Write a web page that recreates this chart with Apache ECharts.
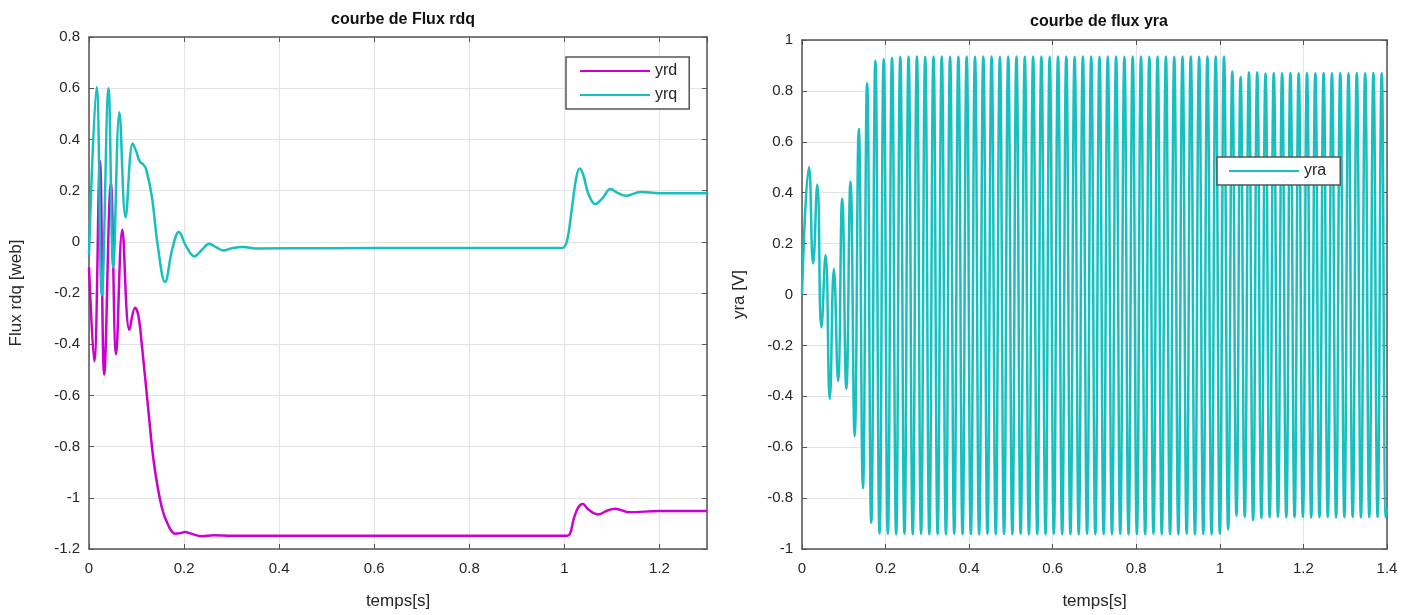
<!DOCTYPE html>
<html>
<head>
<meta charset="utf-8">
<script src="https://cdn.jsdelivr.net/npm/echarts@6/dist/echarts.min.js"></script>
<style>
html,body{margin:0;padding:0;background:#fff;}
#chart{width:1421px;height:615px;}
</style>
</head>
<body>
<div id="chart"></div>
<script>
// ---------- DATA ----------
const leftTitle = 'courbe de Flux rdq';
const rightTitle = 'courbe de flux yra';
const leftSeriesNames = ['yrd', 'yrq'];
const rightSeriesNames = ['yra'];

const yrdTime = [0, 0.011, 0.023, 0.032, 0.046, 0.057, 0.070, 0.085, 0.097, 0.104, 0.111, 0.125, 0.137, 0.153, 0.167, 0.181, 0.192, 0.202, 0.215, 0.237, 0.262, 0.3, 0.5, 0.8, 1.005, 1.012, 1.02, 1.03, 1.039, 1.05, 1.072, 1.09, 1.107, 1.135, 1.2, 1.3];
const yrdValues = [-0.10, -0.467, 0.316, -0.519, 0.229, -0.439, 0.047, -0.344, -0.258, -0.29, -0.40, -0.66, -0.87, -1.037, -1.108, -1.14, -1.138, -1.134, -1.14, -1.15, -1.146, -1.148, -1.148, -1.148, -1.148, -1.14, -1.08, -1.035, -1.024, -1.045, -1.065, -1.05, -1.043, -1.056, -1.052, -1.052];

const yrqTime = [0, 0.016, 0.027, 0.041, 0.051, 0.064, 0.077, 0.092, 0.1, 0.106, 0.115, 0.12, 0.132, 0.145, 0.16, 0.175, 0.189, 0.205, 0.222, 0.238, 0.253, 0.268, 0.283, 0.3, 0.325, 0.35, 0.5, 0.7, 0.9, 0.995, 1.005, 1.015, 1.025, 1.032, 1.04, 1.05, 1.065, 1.08, 1.097, 1.113, 1.13, 1.16, 1.2, 1.3];
const yrqValues = [-0.05, 0.605, -0.21, 0.60, -0.10, 0.506, 0.096, 0.384, 0.35, 0.316, 0.30, 0.285, 0.18, -0.02, -0.157, -0.03, 0.038, -0.02, -0.057, -0.03, -0.008, -0.022, -0.034, -0.025, -0.02, -0.026, -0.025, -0.024, -0.024, -0.024, 0.0, 0.12, 0.25, 0.286, 0.26, 0.19, 0.148, 0.17, 0.206, 0.19, 0.18, 0.195, 0.19, 0.19];

// extrema of yra (peak, trough pairs)
const yraTime = [0,
  0.0167,0.0266, 0.0366,0.0465, 0.0564,0.0664, 0.0763,0.0862, 0.0962,0.1061,
  0.1160,0.1260, 0.1359,0.1458, 0.1558,0.1657, 0.1756,0.1856, 0.1955,0.2054,
  0.2154,0.2253, 0.2352,0.2452, 0.2551,0.2650, 0.2750,0.2849, 0.2948,0.3047,
  0.3147,0.3246, 0.3345,0.3445, 0.3544,0.3643, 0.3743,0.3842, 0.3941,0.4041,
  0.4140,0.4239, 0.4339,0.4438, 0.4537,0.4637, 0.4736,0.4835, 0.4935,0.5034,
  0.5133,0.5233, 0.5332,0.5431, 0.5531,0.5630, 0.5729,0.5829, 0.5928,0.6027,
  0.6127,0.6226, 0.6325,0.6424, 0.6524,0.6623, 0.6722,0.6822, 0.6921,0.7020,
  0.7120,0.7219, 0.7318,0.7418, 0.7517,0.7616, 0.7716,0.7815, 0.7914,0.8014,
  0.8113,0.8212, 0.8312,0.8411, 0.8510,0.8610, 0.8709,0.8808, 0.8908,0.9007,
  0.9106,0.9206, 0.9305,0.9404, 0.9504,0.9603, 0.9702,0.9801, 0.9901,1.0000,
  1.0100,1.0199, 1.0298,1.0398, 1.0497,1.0596, 1.0696,1.0795, 1.0894,1.0994,
  1.1093,1.1192, 1.1291,1.1391, 1.1490,1.1590, 1.1689,1.1788, 1.1887,1.1987,
  1.2086,1.2186, 1.2285,1.2384, 1.2483,1.2583, 1.2682,1.2782, 1.2881,1.2980,
  1.3079,1.3179, 1.3278,1.3377, 1.3477,1.3576, 1.3675,1.3775, 1.3874,1.3973,
  1.4];
const yraValues = [0,
  0.50,0.123, 0.432,-0.13, 0.155,-0.41, 0.10,-0.34, 0.376,-0.371,
  0.444,-0.557, 0.65,-0.761, 0.83,-0.897, 0.918,-0.939, 0.925,-0.94,
  0.93,-0.942, 0.934,-0.94, 0.935,-0.942, 0.935,-0.94, 0.934,-0.942,
  0.935,-0.941, 0.935,-0.942, 0.934,-0.94, 0.935,-0.942, 0.935,-0.941,
  0.934,-0.942, 0.935,-0.94, 0.935,-0.942, 0.934,-0.941, 0.935,-0.942,
  0.935,-0.94, 0.934,-0.942, 0.935,-0.941, 0.935,-0.942, 0.934,-0.94,
  0.935,-0.942, 0.935,-0.941, 0.934,-0.942, 0.935,-0.94, 0.935,-0.942,
  0.934,-0.941, 0.935,-0.942, 0.935,-0.94, 0.934,-0.942, 0.935,-0.941,
  0.935,-0.942, 0.934,-0.94, 0.935,-0.942, 0.935,-0.941, 0.934,-0.942,
  0.935,-0.94, 0.935,-0.942, 0.934,-0.941, 0.935,-0.942, 0.935,-0.94,
  0.935,-0.923, 0.876,-0.869, 0.855,-0.874, 0.873,-0.887, 0.873,-0.878,
  0.868,-0.875, 0.870,-0.874, 0.869,-0.876, 0.870,-0.875, 0.869,-0.874,
  0.870,-0.876, 0.869,-0.875, 0.870,-0.874, 0.869,-0.876, 0.870,-0.875,
  0.869,-0.874, 0.870,-0.876, 0.869,-0.875, 0.870,-0.874, 0.869,-0.876,
  -0.84];

const colors = {yrd: '#cc00cc', yrq: '#17bfbf', yra: '#17bfbf'};

// ---------- CHART ----------
const FONT = 'Liberation Sans, Arial, sans-serif';
const axisColor = '#555555';
const txtColor = '#262626';

function pairs(t, v) { return t.map((x, i) => [x, v[i]]); }

function mkX(gridIndex, max, name) {
  return [{
    gridIndex, type: 'value', min: 0, max: max, interval: 0.2, position: 'bottom',
    name: name, nameLocation: 'middle', nameGap: 44,
    nameTextStyle: {fontFamily: FONT, fontSize: 17, color: txtColor},
    axisLine: {show: true, onZero: false, lineStyle: {color: axisColor, width: 1.5}},
    axisTick: {show: true, inside: true, length: 5, lineStyle: {color: axisColor}},
    axisLabel: {fontFamily: FONT, fontSize: 15, color: txtColor, margin: 12, showMaxLabel: max === 1.4,
      formatter: v => String(Math.round(v * 10) / 10)},
    splitLine: {show: true, lineStyle: {color: '#e3e3e3', width: 1}}
  }, {
    gridIndex, type: 'value', min: 0, max: max, interval: 0.2, position: 'top',
    axisLine: {show: true, onZero: false, lineStyle: {color: axisColor, width: 1.5}},
    axisTick: {show: true, inside: true, length: 5, lineStyle: {color: axisColor}},
    axisLabel: {show: false}, splitLine: {show: false}
  }];
}
function mkY(gridIndex, min, max, name, gap) {
  return [{
    gridIndex, type: 'value', min, max, interval: 0.2, position: 'left',
    name: name, nameLocation: 'middle', nameGap: gap, nameRotate: 90,
    nameTextStyle: {fontFamily: FONT, fontSize: 17, color: txtColor},
    axisLine: {show: true, onZero: false, lineStyle: {color: axisColor, width: 1.5}},
    axisTick: {show: true, inside: true, length: 5, lineStyle: {color: axisColor}},
    axisLabel: {fontFamily: FONT, fontSize: 15, color: txtColor, margin: 9,
      formatter: v => String(Math.round(v * 10) / 10)},
    splitLine: {show: true, lineStyle: {color: '#e3e3e3', width: 1}}
  }, {
    gridIndex, type: 'value', min, max, interval: 0.2, position: 'right',
    axisLine: {show: true, onZero: false, lineStyle: {color: axisColor, width: 1.5}},
    axisTick: {show: true, inside: true, length: 5, lineStyle: {color: axisColor}},
    axisLabel: {show: false}, splitLine: {show: false}
  }];
}

const chart = echarts.init(document.getElementById('chart'), null, {renderer: 'canvas'});
const option = {
  animation: false,
  backgroundColor: '#ffffff',
  title: [
    {text: leftTitle, left: 398, top: 7, textAlign: 'center',
     textStyle: {fontFamily: FONT, fontSize: 16, fontWeight: 'bold', color: '#111'}},
    {text: rightTitle, left: 1094, top: 9, textAlign: 'center',
     textStyle: {fontFamily: FONT, fontSize: 16, fontWeight: 'bold', color: '#111'}}
  ],
  grid: [
    {left: 89, top: 37, width: 618, height: 515, containLabel: false},
    {left: 802, top: 40, width: 585, height: 513, containLabel: false}
  ],
  xAxis: [...mkX(0, 1.3, 'temps[s]'), ...mkX(1, 1.4, 'temps[s]')],
  yAxis: [...mkY(0, -1.2, 0.8, 'Flux rdq [web]', 64), ...mkY(1, -1, 1, 'yra [V]', 54)],
  legend: [
    {data: leftSeriesNames, left: 566, top: 57, orient: 'vertical',
     backgroundColor: '#fff', borderColor: '#555', borderWidth: 1.5,
     padding: [6, 12, 6, 14], itemGap: 8, itemWidth: 70, itemHeight: 2, icon: 'rect',
     textStyle: {fontFamily: FONT, fontSize: 16, color: txtColor}},
    {data: rightSeriesNames, left: 1217, top: 157, orient: 'vertical',
     backgroundColor: '#fff', borderColor: '#555', borderWidth: 1.5,
     padding: [6, 14, 6, 12], itemWidth: 70, itemHeight: 2, icon: 'rect',
     textStyle: {fontFamily: FONT, fontSize: 16, color: txtColor}}
  ],
  series: [
    {name: 'yrd', type: 'line', xAxisIndex: 0, yAxisIndex: 0, data: pairs(yrdTime, yrdValues),
     showSymbol: false, smooth: 0.4, lineStyle: {width: 2.5, color: colors.yrd}, itemStyle: {color: colors.yrd}},
    {name: 'yrq', type: 'line', xAxisIndex: 0, yAxisIndex: 0, data: pairs(yrqTime, yrqValues),
     showSymbol: false, smooth: 0.4, lineStyle: {width: 2.5, color: colors.yrq}, itemStyle: {color: colors.yrq}},
    {name: 'yra', type: 'line', xAxisIndex: 2, yAxisIndex: 2, data: pairs(yraTime, yraValues),
     showSymbol: false, smooth: 0.5, clip: true, lineStyle: {width: 2.5, color: colors.yra}, itemStyle: {color: colors.yra}}
  ]
};
chart.setOption(option);
</script>
</body>
</html>
